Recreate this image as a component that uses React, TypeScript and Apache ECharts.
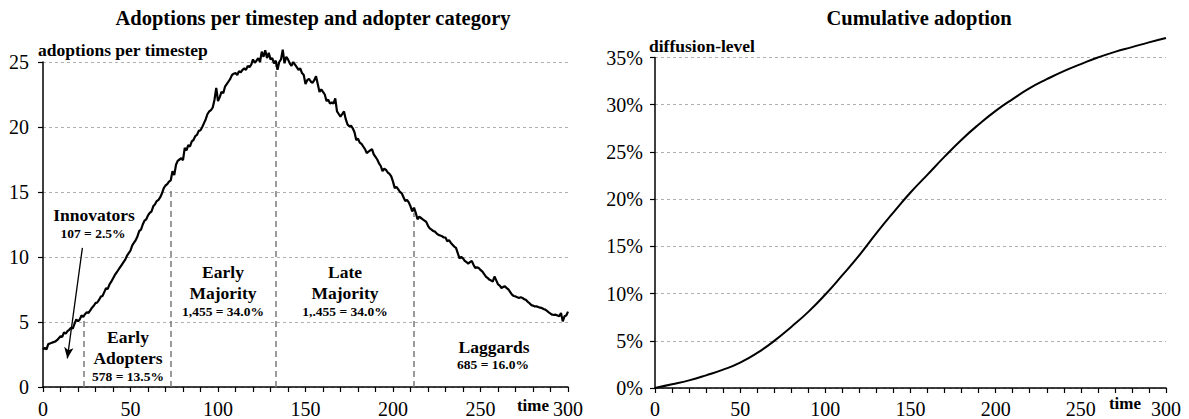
import React, { useEffect, useRef } from "react";
import * as echarts from "echarts";

// ---------- data ----------
// adoptions per timestep, t = 0..300 (index = timestep)
const adoptions: number[] = [
  2.9, 3.0, 2.9, 3.3, 3.35, 3.4, 3.45, 3.5, 3.6, 3.75,
  3.9, 3.85, 4.2, 4.1, 4.3, 4.4, 4.55, 4.5, 4.85, 5.2,
  5.05, 5.2, 5.5, 5.4, 5.6, 5.75, 5.7, 5.9, 6.1, 6.25,
  6.45, 6.5, 6.7, 6.95, 7.0, 7.3, 7.6, 7.55, 7.9, 8.1,
  8.35, 8.6, 8.8, 9.0, 9.2, 9.4, 9.6, 9.8, 10.1, 10.3,
  10.5, 10.9, 11.1, 11.3, 11.6, 12.0, 12.1, 12.5, 12.8, 12.9,
  13.2, 13.4, 13.5, 13.9, 14.05, 14.3, 14.4, 14.6, 14.9, 15.3,
  15.5, 15.6, 15.8, 15.9, 16.6, 16.3, 17.1, 17.4, 17.5, 17.6,
  17.45, 18.4, 18.2, 18.6, 18.5, 18.9, 19.0, 19.3, 19.4, 19.7,
  19.75, 20.0, 20.3, 20.6, 21.0, 21.2, 21.3, 21.5, 22.1, 23.0,
  22.0, 22.3, 22.7, 22.6, 23.1, 23.3, 23.5, 23.7, 24.0, 24.1,
  24.15, 24.0, 24.3, 24.2, 24.4, 24.5, 24.4, 24.7, 24.6, 24.8,
  25.2, 24.95, 25.1, 25.3, 25.0, 25.8, 25.4, 25.9, 25.3, 25.7,
  25.2, 25.3, 24.9, 25.1, 24.4, 25.0, 25.2, 25.95, 24.9, 25.4,
  25.2, 24.9, 24.7, 25.0, 24.8, 24.6, 24.4, 24.5, 24.15, 24.0,
  23.3, 23.6, 23.7, 23.5, 23.4, 23.6, 23.9, 23.3, 22.7, 22.9,
  22.7, 22.5, 22.0, 22.1, 21.8, 21.9, 21.8, 22.2, 21.2, 21.0,
  20.8, 21.0, 21.2, 20.6, 20.2, 20.05, 20.1, 19.9, 19.6, 19.0,
  19.1, 18.8, 18.7, 18.5, 18.3, 18.0, 18.1, 18.2, 18.3, 17.9,
  17.7, 17.5, 17.2, 17.0, 16.6, 16.8, 16.7, 16.5, 16.4, 16.2,
  15.8, 15.3, 15.4, 15.2, 15.0, 14.9, 14.6, 14.3, 14.4, 14.2,
  13.9, 13.5, 13.8, 13.4, 12.9, 13.1, 13.0, 12.9, 12.8, 12.7,
  12.4, 12.2, 12.1, 12.0, 11.95, 11.8, 11.7, 11.65, 11.6, 11.5,
  11.5, 11.2, 11.3, 11.1, 10.95, 10.8, 10.7, 10.3, 9.9, 10.0,
  9.9, 9.7, 9.6, 9.5, 9.6, 9.7, 9.4, 9.15, 9.2, 9.15,
  9.0, 8.9, 8.7, 8.5, 8.4, 8.26, 8.2, 8.1, 8.5, 8.2,
  7.9, 7.8, 7.6, 7.7, 7.74, 7.6, 7.5, 7.3, 7.1, 7.0,
  6.97, 6.9, 6.85, 6.9, 6.85, 6.75, 6.7, 6.55, 6.45, 6.3,
  6.26, 6.2, 6.2, 6.15, 6.1, 6.08, 6.0, 5.95, 5.85, 5.74,
  5.65, 5.56, 5.55, 5.56, 5.5, 5.44, 5.7, 5.05, 5.44, 5.5,
  5.8,
];

// cumulative adoption (diffusion level, %) read every 10 timesteps
const cumTime: number[] = [
  0, 10, 20, 30, 40, 50, 60, 70, 80, 90, 100, 110, 120, 130, 140, 150,
  160, 170, 180, 190, 200, 210, 220, 230, 240, 250, 260, 270, 280, 290, 300,
];
const cumLevel: number[] = [
  0, 0.39, 0.81, 1.34, 1.94, 2.69, 3.71, 4.99, 6.47, 8.06, 9.9, 11.95, 14.07,
  16.4, 18.6, 20.7, 22.6, 24.5, 26.3, 27.9, 29.35, 30.6, 31.75, 32.7, 33.56,
  34.3, 35.0, 35.6, 36.1, 36.6, 37.06,
];

// adopter-category boundaries: [time, curve height]
const boundaryTime: number[] = [23, 73, 133, 212];
const boundaryHeight: number[] = [5.4, 15.4, 24.8, 13.4];

// arrow (innovators) from -> to, in data coordinates
const arrowFrom: number[] = [22.5, 10.7];
const arrowTo: number[] = [13.9, 2.2];

const leftTicksY = { min: 0, max: 25, interval: 5 };
const rightTicksY = { min: 0, max: 35, interval: 5 };
const ticksX = { min: 0, max: 300, interval: 50 };

const SERIF = "Liberation Serif";

export default function App() {
  const ref = useRef<HTMLDivElement>(null);

  useEffect(() => {
    if (!ref.current) return;
    const chart = echarts.init(ref.current, undefined, { renderer: "svg" });

    const axisX = (gridIndex: number, margin: number) => ({
      type: "value",
      gridIndex,
      min: ticksX.min,
      max: ticksX.max,
      interval: ticksX.interval,
      axisLine: { show: true, lineStyle: { color: "#000", width: 1.5 } },
      axisTick: { show: true, length: 5, lineStyle: { color: "#000", width: 1.2 } },
      minorTick: { show: true, splitNumber: 5, length: 5, lineStyle: { color: "#000", width: 1.2 } },
      axisLabel: { color: "#000", fontFamily: SERIF, fontSize: 20, margin },
      splitLine: { show: false },
    });

    const axisY = (gridIndex: number, t: any, fmt: string, margin: number) => ({
      type: "value",
      gridIndex,
      min: t.min,
      max: t.max,
      interval: t.interval,
      axisLine: { show: true, lineStyle: { color: "#000", width: 1.5 } },
      axisTick: { show: true, length: 5, lineStyle: { color: "#000", width: 1.2 } },
      axisLabel: { color: "#000", fontFamily: SERIF, fontSize: 20, margin, formatter: fmt },
      splitLine: { show: true, lineStyle: { color: "#b0b0b0", type: [3, 3], width: 1 } },
    });

    const leftData = adoptions.map((v, i) => [i, v]);
    const rightData = cumTime.map((t, i) => [t, cumLevel[i]]);

    const dashed = boundaryTime.map((t, i) => [
      { coord: [t, 0], symbol: "none" },
      { coord: [t, boundaryHeight[i]], symbol: "none" },
    ]);
    const arrow = [
      { coord: arrowFrom, symbol: "none", lineStyle: { color: "#000", type: "solid", width: 1.3 } },
      { coord: arrowTo, symbol: "arrow", symbolSize: [7, 11], lineStyle: { color: "#000", type: "solid", width: 1.3 } },
    ];

    const txt = (text: string, x: number, y: number, size: number, bold = true) => ({
      type: "text",
      x,
      y,
      silent: true,
      style: {
        text,
        fill: "#000",
        fontFamily: SERIF,
        fontSize: size,
        fontWeight: bold ? "bold" : "normal",
        align: "center",
        verticalAlign: "middle",
      },
    });
    const txtL = (text: string, x: number, y: number, size: number) => ({
      type: "text",
      x,
      y,
      silent: true,
      style: {
        text,
        fill: "#000",
        fontFamily: SERIF,
        fontSize: size,
        fontWeight: "bold",
        align: "left",
        verticalAlign: "middle",
      },
    });

    chart.setOption({
      animation: false,
      backgroundColor: "#fff",
      grid: [
        { left: 43, top: 62, width: 525, height: 326 },
        { left: 655, top: 57.5, width: 511, height: 330.5 },
      ],
      xAxis: [axisX(0, 12), axisX(1, 11)],
      yAxis: [
        axisY(0, leftTicksY, "{value}", 14),
        axisY(1, rightTicksY, "{value}%", 12),
      ],
      series: [
        {
          type: "line",
          xAxisIndex: 0,
          yAxisIndex: 0,
          data: leftData,
          showSymbol: false,
          symbol: "none",
          clip: false,
          lineStyle: { color: "#000", width: 2.2 },
          z: 5,
          markLine: {
            silent: true,
            symbol: ["none", "none"],
            label: { show: false },
            lineStyle: { color: "#7a7a7a", type: [6, 4], width: 1.5 },
            data: [...dashed, arrow],
          },
        },
        {
          type: "line",
          xAxisIndex: 1,
          yAxisIndex: 1,
          data: rightData,
          showSymbol: false,
          symbol: "none",
          smooth: true,
          clip: false,
          lineStyle: { color: "#000", width: 2 },
        },
      ],
      graphic: [
        txt("Adoptions per timestep and adopter category", 313, 18, 20.5),
        txt("Cumulative adoption", 919, 18, 20.5),
        txtL("adoptions per timestep", 38, 50, 17.5),
        txtL("diffusion-level", 649, 46, 17.5),
        txt("time", 533, 405, 17),
        txt("time", 1125, 403, 17),
        txt("Innovators", 94, 215, 17.5),
        txt("107 = 2.5%", 93, 233, 13.5),
        txt("Early", 128, 337, 17.5),
        txt("Adopters", 128, 358, 17.5),
        txt("578 = 13.5%", 128, 376, 13.5),
        txt("Early", 223, 272, 17.5),
        txt("Majority", 223, 293, 17.5),
        txt("1,455 = 34.0%", 223, 311, 13.5),
        txt("Late", 345, 272, 17.5),
        txt("Majority", 345, 293, 17.5),
        txt("1,.455 = 34.0%", 345, 311, 13.5),
        txt("Laggards", 494, 347, 17.5),
        txt("685 = 16.0%", 493, 364, 13.5),
      ],
    });

    return () => chart.dispose();
  }, []);

  return (
    <div
      ref={ref}
      style={{ position: "absolute", left: 0, top: 0, width: 1189, height: 419, background: "#fff" }}
    />
  );
}
